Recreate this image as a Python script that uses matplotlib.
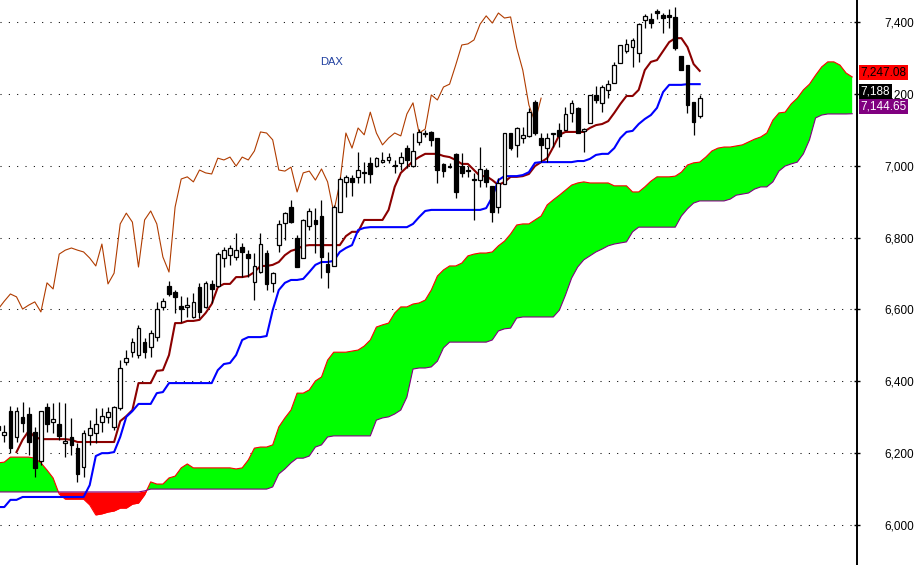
import numpy as np
import matplotlib
matplotlib.use("Agg")
import matplotlib.pyplot as plt
from matplotlib.transforms import blended_transform_factory

# ---------------- data (DAX daily, Ichimoku) ----------------
opens = [
    6264, 6251, 6317, 6245, 6301, 6309, 6259, 6178, 6328, 6287,
    6281, 6228, 6245, 6214, 6161, 6251, 6256, 6287, 6301, 6273,
    6326, 6454, 6481, 6473, 6509, 6495, 6523, 6607, 6665, 6648,
    6610, 6607, 6579, 6662, 6607, 6671, 6665, 6743, 6751, 6746,
    6774, 6754, 6676, 6704, 6757, 6674, 6779, 6841, 6885, 6799,
    6743, 6832, 6849, 6860, 6726, 6721, 6871, 6955, 6966, 6969,
    6982, 7008, 6999, 7010, 7016, 7002, 7008, 7049, 6999, 7066,
    7088, 7094, 7077, 7005, 6999, 7033, 6999, 6988, 6963, 6960,
    6988, 6944, 6885, 6949, 7091, 7058, 7077, 7083, 7177, 7077,
    7049, 7088, 7099, 7099, 7147, 7161, 7097, 7119, 7197, 7175,
    7211, 7230, 7286, 7319, 7330, 7314, 7406, 7408, 7431, 7419,
    7419, 7414, 7305, 7280, 7177, 7138,
]
highs = [
    6292, 6278, 6331, 6328, 6342, 6328, 6273, 6317, 6340, 6340,
    6342, 6340, 6298, 6228, 6264, 6292, 6326, 6326, 6328, 6331,
    6459, 6487, 6520, 6557, 6520, 6543, 6621, 6632, 6679, 6654,
    6637, 6635, 6646, 6674, 6679, 6682, 6760, 6774, 6779, 6813,
    6785, 6765, 6757, 6813, 6765, 6704, 6849, 6871, 6905, 6807,
    6852, 6882, 6882, 6905, 6760, 6891, 6969, 6974, 6974, 7038,
    7010, 7024, 7024, 7038, 7035, 7016, 7038, 7058, 7091, 7102,
    7099, 7097, 7077, 7008, 7008, 7035, 7035, 6999, 6980, 7052,
    6994, 6944, 6966, 7091, 7091, 7108, 7108, 7161, 7183, 7091,
    7091, 7091, 7119, 7163, 7183, 7163, 7105, 7197, 7222, 7225,
    7239, 7289, 7336, 7353, 7355, 7397, 7422, 7425, 7436, 7425,
    7436, 7442, 7305, 7280, 7177, 7197,
]
lows = [
    6237, 6231, 6200, 6231, 6259, 6195, 6134, 6167, 6259, 6256,
    6237, 6189, 6195, 6120, 6134, 6223, 6228, 6259, 6284, 6264,
    6320, 6445, 6468, 6465, 6465, 6468, 6512, 6598, 6637, 6590,
    6565, 6579, 6576, 6576, 6604, 6618, 6662, 6718, 6724, 6738,
    6690, 6690, 6626, 6701, 6654, 6648, 6760, 6793, 6841, 6718,
    6743, 6821, 6757, 6687, 6660, 6721, 6871, 6913, 6916, 6952,
    6952, 6952, 6996, 7008, 7008, 6980, 6988, 6994, 6996, 7058,
    7080, 7055, 6952, 6969, 6994, 6910, 6969, 6969, 6849, 6941,
    6941, 6843, 6868, 6949, 7044, 7024, 7063, 7080, 7086, 7010,
    7010, 7052, 7052, 7099, 7122, 7091, 7038, 7119, 7175, 7149,
    7188, 7230, 7286, 7314, 7275, 7289, 7383, 7383, 7408, 7369,
    7383, 7322, 7266, 7147, 7086, 7133,
]
closes = [
    6276, 6259, 6214, 6317, 6284, 6231, 6159, 6317, 6281, 6295,
    6248, 6234, 6223, 6142, 6256, 6270, 6281, 6303, 6315, 6328,
    6437, 6465, 6509, 6548, 6481, 6534, 6601, 6623, 6643, 6635,
    6601, 6612, 6621, 6593, 6674, 6657, 6754, 6765, 6771, 6765,
    6760, 6743, 6721, 6782, 6671, 6701, 6838, 6868, 6843, 6718,
    6849, 6874, 6838, 6746, 6704, 6885, 6963, 6969, 6955, 6988,
    6980, 6977, 7021, 7016, 7024, 6999, 7024, 7016, 7041, 7094,
    7091, 7072, 6988, 6985, 6996, 6927, 6980, 6985, 6960, 6991,
    6955, 6871, 6952, 7091, 7049, 7105, 7086, 7149, 7091, 7058,
    7077, 7091, 7083, 7144, 7175, 7091, 7102, 7197, 7183, 7219,
    7227, 7280, 7336, 7339, 7350, 7394, 7417, 7397, 7425, 7411,
    7414, 7328, 7266, 7169, 7122, 7188,
]
tenkan = [
    np.nan, np.nan, np.nan, 6203, 6237, 6262, 6245, 6239, 6239, 6239,
    6239, 6239, 6237, 6231, 6231, 6231, 6231, 6231, 6231, 6231,
    6289, 6303, 6320, 6395, 6395, 6395, 6429, 6431, 6473, 6562,
    6562, 6568, 6568, 6571, 6590, 6615, 6662, 6671, 6671, 6690,
    6690, 6693, 6704, 6721, 6721, 6724, 6732, 6751, 6763, 6768,
    6777, 6779, 6779, 6779, 6779, 6779, 6779, 6804, 6816, 6816,
    6849, 6849, 6849, 6849, 6877, 6941, 6980, 6996, 7013, 7024,
    7033, 7033, 7033, 7027, 7024, 7016, 7005, 7005, 6988, 6971,
    6971, 6960, 6946, 6955, 6969, 6969, 6971, 6977, 6999, 7010,
    7021, 7052, 7086, 7094, 7094, 7094, 7094, 7105, 7113, 7116,
    7124, 7147, 7172, 7194, 7194, 7211, 7266, 7289, 7294, 7319,
    7344, 7355, 7355, 7330, 7283, 7264,
]
kijun = [
    6050, 6050, 6070, 6070, 6078, 6078, 6078, 6078, 6078, 6078,
    6078, 6078, 6078, 6078, 6078, 6111, 6192, 6200, 6200, 6203,
    6245, 6301, 6317, 6337, 6337, 6337, 6367, 6370, 6395, 6395,
    6395, 6395, 6395, 6395, 6395, 6395, 6431, 6448, 6451, 6473,
    6515, 6523, 6523, 6523, 6526, 6598, 6654, 6674, 6682, 6682,
    6685, 6704, 6724, 6732, 6732, 6735, 6760, 6771, 6779, 6821,
    6827, 6829, 6829, 6829, 6829, 6829, 6829, 6829, 6838, 6857,
    6874, 6877, 6877, 6877, 6877, 6877, 6877, 6877, 6877, 6877,
    6882, 6913, 6960, 6971, 6971, 6971, 6974, 6982, 7008, 7010,
    7010, 7010, 7010, 7010, 7010, 7013, 7013, 7019, 7030, 7033,
    7033, 7049, 7077, 7094, 7097, 7116, 7130, 7141, 7161, 7205,
    7225, 7225, 7225, 7227, 7227, 7227,
]
senkou_a = [
    6173, 6175, 6189, 6189, 6189, 6189, 6186, 6173, 6153, 6131,
    6086, 6072, 6072, 6072, 6072, 6056, 6028, 6031, 6036, 6039,
    6047, 6047, 6058, 6061, 6084, 6120, 6114, 6114, 6131, 6136,
    6159, 6170, 6159, 6159, 6159, 6159, 6159, 6159, 6159, 6156,
    6159, 6181, 6214, 6217, 6217, 6223, 6273, 6298, 6320, 6367,
    6367, 6376, 6401, 6412, 6459, 6481, 6481, 6481, 6484, 6487,
    6498, 6515, 6551, 6557, 6562, 6590, 6607, 6607, 6615, 6618,
    6626, 6654, 6693, 6710, 6721, 6721, 6729, 6749, 6754, 6757,
    6757, 6760, 6777, 6790, 6810, 6835, 6838, 6838, 6849, 6860,
    6891, 6905, 6918, 6932, 6946, 6952, 6955, 6952, 6952, 6952,
    6952, 6944, 6944, 6944, 6927, 6927, 6941, 6957, 6969, 6969,
    6969, 6971, 6982, 7002, 7008, 7010, 7024, 7041, 7049, 7052,
    7052, 7055, 7058, 7066, 7074, 7080, 7091, 7127, 7147, 7149,
    7172, 7188, 7211, 7227, 7252, 7275, 7289, 7289, 7280, 7258,
    7247.08,
]
senkou_b = [
    6092, 6092, 6092, 6092, 6092, 6092, 6092, 6092, 6092, 6092,
    6092, 6092, 6092, 6092, 6092, 6092, 6092, 6092, 6092, 6092,
    6092, 6092, 6092, 6092, 6095, 6100, 6100, 6100, 6100, 6100,
    6100, 6100, 6100, 6100, 6100, 6100, 6100, 6100, 6100, 6100,
    6100, 6100, 6100, 6100, 6100, 6106, 6142, 6156, 6173, 6186,
    6186, 6192, 6217, 6223, 6245, 6248, 6248, 6248, 6248, 6248,
    6248, 6248, 6292, 6298, 6301, 6309, 6320, 6356, 6434, 6437,
    6437, 6440, 6456, 6493, 6509, 6509, 6509, 6509, 6509, 6509,
    6509, 6515, 6540, 6546, 6548, 6576, 6579, 6579, 6579, 6579,
    6579, 6579, 6598, 6640, 6687, 6718, 6738, 6749, 6760, 6768,
    6777, 6782, 6785, 6788, 6816, 6829, 6829, 6829, 6829, 6829,
    6829, 6829, 6860, 6880, 6896, 6902, 6902, 6902, 6902, 6902,
    6907, 6918, 6921, 6924, 6935, 6941, 6941, 6955, 6985, 6999,
    7005, 7010, 7033, 7072, 7133, 7141, 7144, 7144, 7144, 7144,
    7144.65,
]
chikou_shift = 26
y_ticks = [6000, 6200, 6400, 6600, 6800, 7000, 7200, 7400]
y_tick_labels = ["6,000", "6,200", "6,400", "6,600", "6,800", "7,000", "7,200", "7,400"]
title_text = "DAX"

# ---------------- figure ----------------
W, H, DPI = 918, 565, 100
fig = plt.figure(figsize=(W / DPI, H / DPI), dpi=DPI, facecolor="white")
ax = fig.add_axes([0, 0, 857 / W, 1])
ax.set_facecolor("white")

o = np.array(opens, float)
h = np.array(highs, float)
l = np.array(lows, float)
c = np.array(closes, float)
n = len(c)
xb = np.arange(n)

# cloud
sa = np.array(senkou_a, float)
sb = np.array(senkou_b, float)
xc = np.arange(len(sa))
ax.fill_between(xc, sa, sb, where=sa >= sb, interpolate=True,
                color="#00FF00", lw=0, zorder=1)
ax.fill_between(xc, sa, sb, where=sa < sb, interpolate=True,
                color="#FF0000", lw=0, zorder=1)
ax.plot(xc, sa, color="#FF0000", lw=0.8, zorder=2)
ax.plot(xc, sb, color="#800080", lw=0.8, zorder=2)

# chikou span (close shifted back)
ax.plot(xb[chikou_shift:] - chikou_shift, c[chikou_shift:],
        color="#B03C00", lw=0.8, zorder=3)

# tenkan / kijun
ax.plot(xb, np.array(tenkan, float), color="#8B0000", lw=1.5, zorder=3)
ax.plot(xb, np.array(kijun, float), color="#0000FF", lw=1.5, zorder=3)

# candles
ax.vlines(xb, l, h, color="black", lw=0.9, zorder=4)
up = c >= o
bottoms = np.minimum(o, c)
heights = np.maximum(np.abs(c - o), 0.5)
ax.bar(xb[up], heights[up], bottom=bottoms[up], width=0.62,
       color="white", edgecolor="black", linewidth=0.9, zorder=5)
ax.bar(xb[~up], heights[~up], bottom=bottoms[~up], width=0.62,
       color="black", edgecolor="black", linewidth=0.9, zorder=5)

# axes styling
ax.set_xlim(0.295, 140.79)
ax.set_ylim(5888.7, 7461.2)
for s in ("top", "left", "bottom"):
    ax.spines[s].set_visible(False)
ax.spines["right"].set_linewidth(1.4)
ax.spines["right"].set_color("black")
ax.set_xticks([])
ax.yaxis.tick_right()
ax.set_yticks(y_ticks)
ax.set_yticklabels(y_tick_labels, family="Liberation Sans")
ax.tick_params(axis="y", direction="inout", length=5, width=1,
               pad=17, labelsize=8.5, colors="black")
ax.yaxis.grid(True, color="black", linestyle=(0, (1, 7)), lw=0.75)
ax.set_axisbelow(True)

ax.text(0.387, 0.890, title_text, transform=ax.transAxes, ha="center",
        va="center", fontsize=8, color="#2040A0", family="Liberation Sans")

# last value boxes
trans = blended_transform_factory(ax.transAxes, ax.transData)
boxes = [
    (f"{sa[-1]:,.2f}", sa[-1], "#FF0000", "black", 3.2),
    (f"{c[-1]:,.0f}", c[-1], "black", "white", 4.7),
    (f"{sb[-1]:,.2f}", sb[-1], "#800080", "white", 5.0),
]
for txt, val, fc, tc, dy in boxes:
    ax.annotate(txt, xy=(1, val), xycoords=trans, xytext=(2.6, dy),
                textcoords="offset points", ha="left", va="center",
                fontsize=8.5, color=tc, family="Liberation Sans",
                bbox=dict(boxstyle="square,pad=0.12", fc=fc, ec="none"),
                annotation_clip=False, zorder=10)

fig.savefig("out.png", dpi=DPI, facecolor="white")
